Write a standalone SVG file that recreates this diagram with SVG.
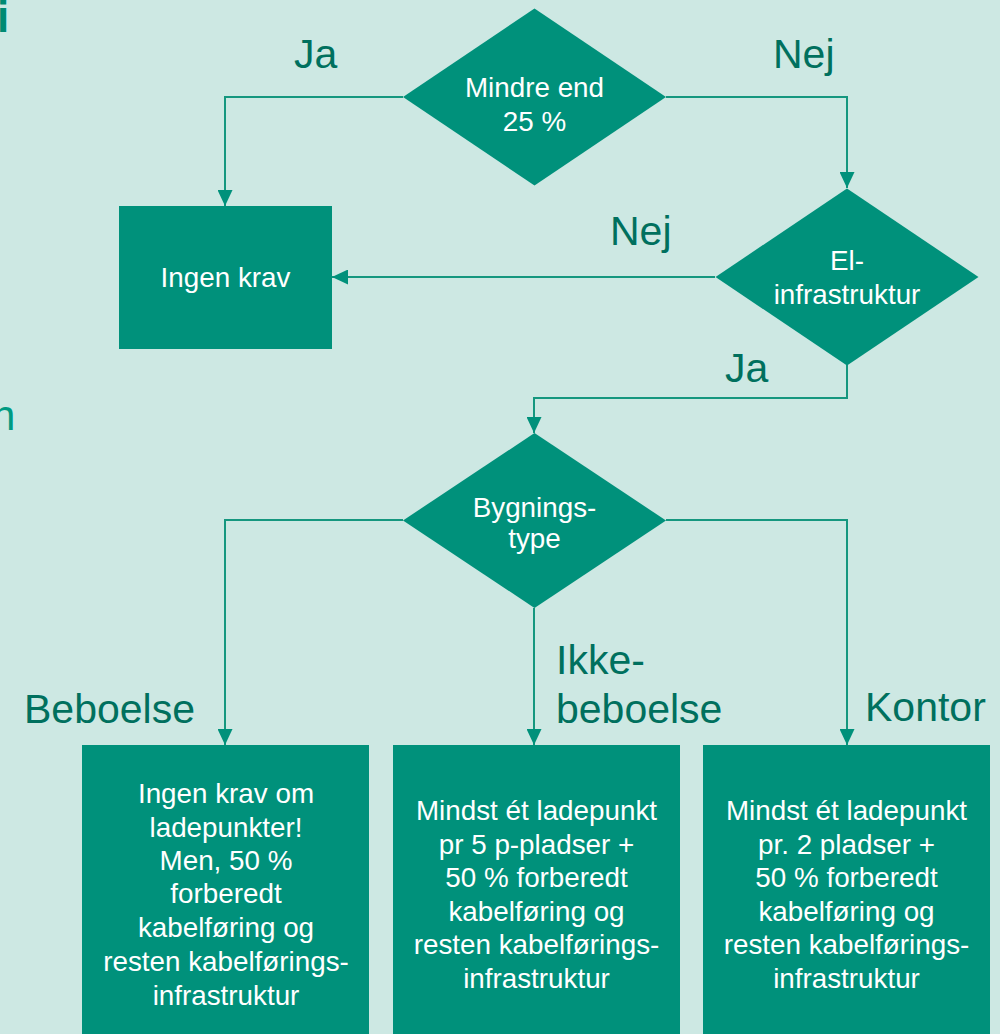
<svg xmlns="http://www.w3.org/2000/svg" width="1000" height="1034" viewBox="0 0 1000 1034">
  <defs>
    <marker id="arr" markerUnits="userSpaceOnUse" markerWidth="16" markerHeight="15" refX="16" refY="7.5" orient="auto">
      <path d="M0,0 L16,7.5 L0,15 Z" fill="#00917b"/>
    </marker>
    <style>
      .shape { fill: #00917b; }
      .t { font-family: "Liberation Sans", Arial, sans-serif; font-size: 27.8px; fill: #ffffff; text-anchor: middle; }
      .lbl { font-family: "Liberation Sans", Arial, sans-serif; font-size: 41px; fill: #00705e; }
      .conn { fill: none; stroke: #15977f; stroke-width: 2; marker-end: url(#arr); }
    </style>
  </defs>
  <rect width="1000" height="1034" fill="#cde8e3"/>
  <text x="-3" y="32" font-family="Liberation Sans, Arial, sans-serif" font-size="44" font-weight="bold" fill="#008a72">i</text>
  <text x="-8" y="430" font-family="Liberation Sans, Arial, sans-serif" font-size="42" fill="#009a82">n</text>

  <g id="connectors">
    <polyline class="conn" points="403,97 225,97 225,206"/>
    <polyline class="conn" points="666,97 847,97 847,188"/>
    <polyline class="conn" points="715,277 332,277"/>
    <polyline class="conn" points="847,365 847,398 534,398 534,433"/>
    <polyline class="conn" points="403,520 225,520 225,745"/>
    <polyline class="conn" points="534,608 534,745"/>
    <polyline class="conn" points="666,520 847,520 847,745"/>
  </g>

  <g id="labels">
    <text class="lbl" x="294" y="68">Ja</text>
    <text class="lbl" x="773" y="68">Nej</text>
    <text class="lbl" x="610" y="245">Nej</text>
    <text class="lbl" x="725" y="382">Ja</text>
    <text class="lbl" x="24" y="723">Beboelse</text>
    <text class="lbl" x="556" y="674">Ikke-</text>
    <text class="lbl" x="556" y="723">beboelse</text>
    <text class="lbl" x="865" y="721">Kontor</text>
  </g>

  <g id="mindre">
    <polygon class="shape" points="534.5,8.5 666,97 534.5,185.5 403,97"/>
    <text class="t" x="534.5" y="97">Mindre end</text>
    <text class="t" x="534.5" y="131">25 %</text>
  </g>

  <g id="el">
    <polygon class="shape" points="847,188.5 978.5,277 847,365.5 715.5,277"/>
    <text class="t" x="847" y="270">El-</text>
    <text class="t" x="847" y="304">infrastruktur</text>
  </g>

  <g id="ingenkrav">
    <rect class="shape" x="119" y="206" width="213" height="143"/>
    <text class="t" x="225.5" y="287">Ingen krav</text>
  </g>

  <g id="bygning">
    <polygon class="shape" points="534.5,433 666,520.5 534.5,608 403,520.5"/>
    <text class="t" x="534.5" y="517">Bygnings-</text>
    <text class="t" x="534.5" y="548">type</text>
  </g>

  <g id="beboelse">
    <rect class="shape" x="82" y="745" width="287" height="295"/>
    <text class="t" x="226" y="803">Ingen krav om</text>
    <text class="t" x="226" y="837">ladepunkter!</text>
    <text class="t" x="226" y="870">Men, 50 %</text>
    <text class="t" x="226" y="903">forberedt</text>
    <text class="t" x="226" y="937">kabelføring og</text>
    <text class="t" x="226" y="971">resten kabelførings-</text>
    <text class="t" x="226" y="1005">infrastruktur</text>
  </g>

  <g id="ikkebeboelse">
    <rect class="shape" x="393" y="745" width="287" height="295"/>
    <text class="t" x="536.5" y="820">Mindst ét ladepunkt</text>
    <text class="t" x="536.5" y="854">pr 5 p-pladser +</text>
    <text class="t" x="536.5" y="887">50 % forberedt</text>
    <text class="t" x="536.5" y="921">kabelføring og</text>
    <text class="t" x="536.5" y="954">resten kabelførings-</text>
    <text class="t" x="536.5" y="988">infrastruktur</text>
  </g>

  <g id="kontor">
    <rect class="shape" x="703" y="745" width="287" height="295"/>
    <text class="t" x="846.5" y="820">Mindst ét ladepunkt</text>
    <text class="t" x="846.5" y="854">pr. 2 pladser +</text>
    <text class="t" x="846.5" y="887">50 % forberedt</text>
    <text class="t" x="846.5" y="921">kabelføring og</text>
    <text class="t" x="846.5" y="954">resten kabelførings-</text>
    <text class="t" x="846.5" y="988">infrastruktur</text>
  </g>
</svg>
